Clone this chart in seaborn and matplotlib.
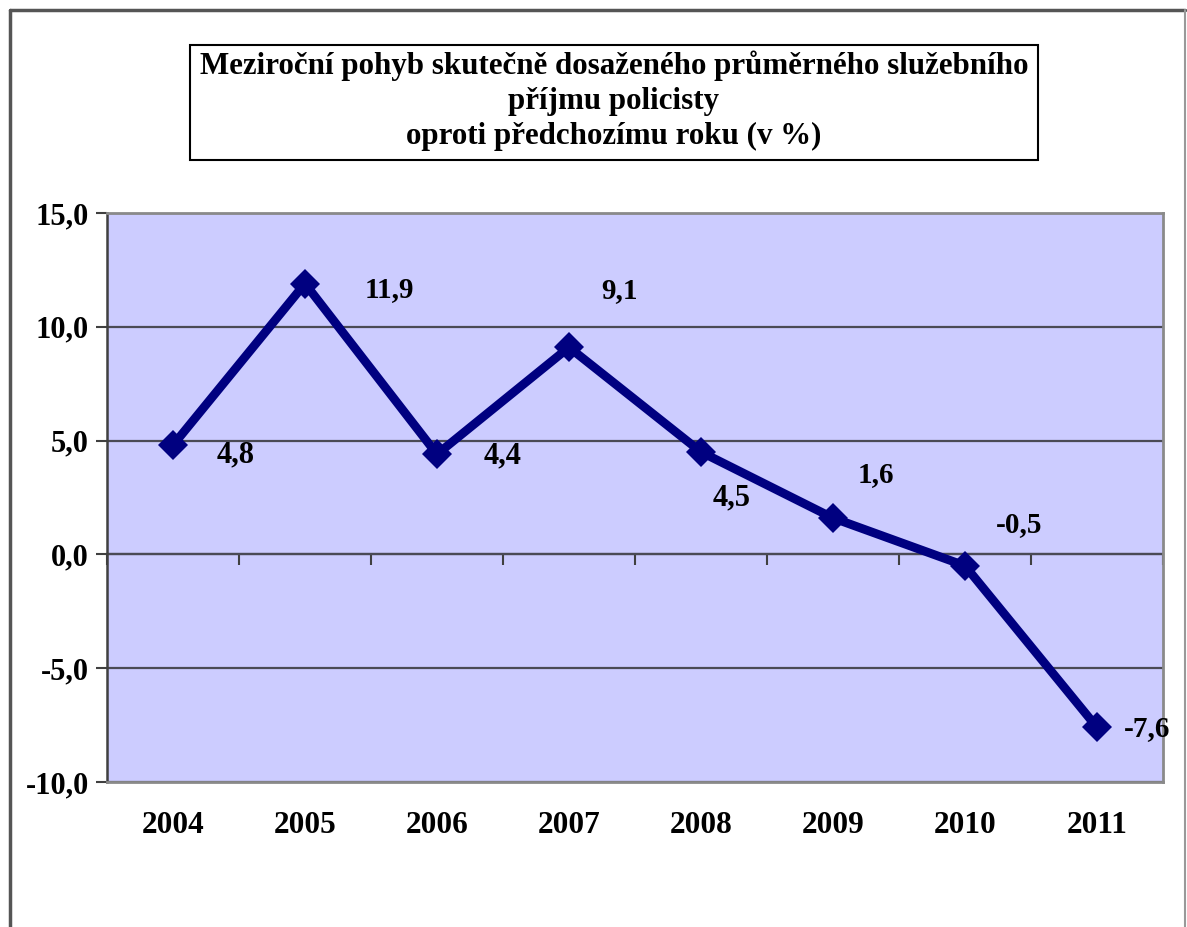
import numpy as np
import pandas as pd
import matplotlib
matplotlib.use('Agg')
import matplotlib.pyplot as plt
import seaborn as sns
from matplotlib.patches import Rectangle
from matplotlib.lines import Line2D

# ---- data ----
years = ['2004', '2005', '2006', '2007', '2008', '2009', '2010', '2011']
values = [4.8, 11.9, 4.4, 9.1, 4.5, 1.6, -0.5, -7.6]
value_labels = ['4,8', '11,9', '4,4', '9,1', '4,5', '1,6', '-0,5', '-7,6']
y_ticks = [-10, -5, 0, 5, 10, 15]
y_tick_labels = ['-10,0', '-5,0', '0,0', '5,0', '10,0', '15,0']
title_lines = ['Meziroční pohyb skutečně dosaženého průměrného služebního',
               'příjmu policisty',
               'oproti předchozímu roku (v %)']

# ---- layout / style ----
label_offsets = [(45, -7), (61, -4), (47, -1), (36, 41), (22, -33), (31, 31), (39, 30), (36, -1)]
label_sizes = [22, 21, 22, 21, 22, 21, 21, 21]

sns.set_theme(style='white')
plt.rcParams['font.family'] = ['Liberation Serif', 'DejaVu Serif']
plt.rcParams['font.weight'] = 'bold'

W, H = 1187, 927
fig = plt.figure(figsize=(W / 100, H / 100), dpi=100)
fig.patch.set_facecolor('white')

ax = fig.add_axes([107 / W, (H - 782) / H, (1163 - 107) / W, (782 - 213) / H])
ax.set_facecolor('#CCCCFF')

df = pd.DataFrame({'pos': np.arange(len(years)), 'value': values})
sns.lineplot(data=df, x='pos', y='value', ax=ax, color='#000080', linewidth=6.3,
             marker='D', markersize=15, markeredgewidth=0, zorder=5)

ax.set_xlim(-0.5, len(years) - 0.5)
ax.set_ylim(min(y_ticks), max(y_ticks))
ax.set_xticks(np.arange(len(years)), labels=years)
ax.set_yticks(y_ticks, labels=y_tick_labels)
ax.set_xlabel('')
ax.set_ylabel('')
ax.tick_params(axis='x', length=0, pad=21, labelsize=22.5, labelcolor='black')
ax.tick_params(axis='y', direction='out', length=8, width=1.5, color='#404040', pad=5,
               labelsize=22, labelcolor='black', left=True)
for lab in ax.get_xticklabels() + ax.get_yticklabels():
    lab.set_fontweight('bold')

ax.grid(axis='y', color='#4a4a55', linewidth=1.6)
ax.grid(axis='x', visible=False)
ax.set_axisbelow(True)

for side in ['top', 'right', 'bottom']:
    ax.spines[side].set_color('#8a8a8a')
    ax.spines[side].set_linewidth(2)
ax.spines['left'].set_color('#404040')
ax.spines['left'].set_linewidth(1.8)

# category axis crossing at zero
sec = ax.secondary_xaxis(0, transform=ax.transData)
sec.set_xticks(np.arange(len(years) + 1) - 0.5)
sec.tick_params(direction='out', length=8, width=1.5, color='#404040', labelbottom=False)
sec.spines['bottom'].set_color('#4a4a55')
sec.spines['bottom'].set_linewidth(1.6)

for i, (v, lab) in enumerate(zip(values, value_labels)):
    ax.annotate(lab, xy=(i, v), xytext=label_offsets[i], textcoords='offset points',
                ha='center', va='center', fontsize=label_sizes[i], fontweight='bold',
                color='black', annotation_clip=False, zorder=6)

# title box
fig.patches.append(Rectangle((190 / W, 1 - 160 / H), (1038 - 190) / W, (160 - 45) / H,
                             transform=fig.transFigure, facecolor='white',
                             edgecolor='black', linewidth=1.5, zorder=1))
fig.text(614 / W, 1 - 101 / H, '\n'.join(title_lines), ha='center', va='center',
         fontsize=22.3, fontweight='bold', linespacing=1.27, color='black', zorder=2)

# outer frame
fig.lines.append(Line2D([10 / W, 10 / W], [0, 1 - 10 / H], transform=fig.transFigure,
                        color='#555555', linewidth=2.5))
fig.lines.append(Line2D([10 / W, 1185 / W], [1 - 10 / H, 1 - 10 / H], transform=fig.transFigure,
                        color='#555555', linewidth=2.5))
fig.lines.append(Line2D([1185 / W, 1185 / W], [0, 1 - 10 / H], transform=fig.transFigure,
                        color='#999999', linewidth=1.5))

fig.savefig('out.png', dpi=100)
